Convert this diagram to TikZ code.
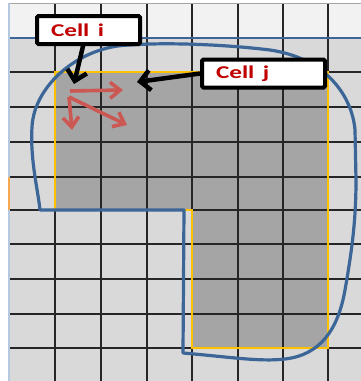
\documentclass[tikz,border=0pt]{standalone}
\usepackage{fontspec}
\usepackage{graphicx}
\newfontfamily\labfont{Carlito}
\usetikzlibrary{arrows.meta}
\definecolor{hdrfill}{HTML}{F2F2F2}
\definecolor{cellfill}{HTML}{D9D9D9}
\definecolor{greyfill}{HTML}{A5A5A5}
\definecolor{gridc}{HTML}{262626}
\definecolor{gold}{HTML}{FFC000}
\definecolor{ablue}{HTML}{3C6698}
\definecolor{lblue}{HTML}{B4C8E0}
\definecolor{txtred}{HTML}{C00000}
\definecolor{arred}{RGB}{204,88,84}
\definecolor{lorange}{HTML}{F8A850}
\tikzset{
  cellbox/.style={draw=black, line width=4pt, fill=white, rounded corners=1.5pt,
    minimum height=28pt, inner xsep=14pt, inner ysep=0pt, align=left,
    font=\labfont\fontsize{18}{18}\selectfont\bfseries, text=txtred},
  blackarrow/.style={draw=black, line width=4.5pt, -{Straight Barb[length=10pt,width=20pt]}},
  redarrow/.style={draw=arred, line width=3.6pt, -{Straight Barb[length=10pt,width=16pt]}},
  gridline/.style={draw=gridc, line width=1.3pt},
  outline/.style={draw=gold, line width=2.6pt},
  blob/.style={draw=ablue, line width=3.2pt, line join=round}
}
\begin{document}
\begin{tikzpicture}[x=1pt,y=-1pt]
\useasboundingbox (0,0) rectangle (361,381);
\fill[white] (0,0) rectangle (361,381);
\fill[hdrfill] (9,3) rectangle (361,38);
\fill[cellfill] (9,38) rectangle (361,381);
% shaded region
\fill[greyfill] (55,72) -- (328,72) -- (328,348) -- (192,348) -- (192,210) -- (55,210) -- cycle;
% grid
\foreach \x in {55,101,147,192,238,283,328} \draw[gridline] (\x,3) -- (\x,381);
\foreach \y in {72,107,142,177,210,244,279,314,348} \draw[gridline] (9,\y) -- (361,\y);
\draw[draw=gray!70, line width=1pt] (9,3) -- (361,3);
\draw[draw=ablue, line width=1.6pt] (9,38) -- (361,38);
\draw[draw=lblue, line width=1.6pt] (9,3) -- (9,381);
\draw[draw=lorange, line width=1.6pt] (9,177) -- (9,210);
% orange outline
\draw[outline] (55,72) -- (328,72) -- (328,348) -- (192,348) -- (192,210) -- (55,210) -- cycle;
% blue blob
\draw[blob] (184,210) -- (183,353)
  .. controls (230,357) and (260,362) .. (285,359)
  .. controls (320,355) and (338,330) .. (345,290)
  .. controls (352,250) and (356,220) .. (356,180)
  -- (355,130)
  .. controls (352,95) and (325,58) .. (270,50)
  .. controls (230,45) and (170,42) .. (130,45)
  .. controls (80,46) and (34,85) .. (32,127)
  .. controls (30,160) and (38,190) .. (40,210)
  -- cycle;
% labels
\node[cellbox, text width=75pt] (ci) at (88.5,30) {\scalebox{1.4}[1]{Cell i}};
\node[cellbox, text width=95pt] (cj) at (263.5,73.5) {\scalebox{1.4}[1]{Cell j}};
\coordinate (ti) at (74,84);
\coordinate (tj) at (137,82);
\draw[blackarrow] ([xshift=-5pt,yshift=2pt]ci.south) -- (ti);
\draw[blackarrow] (cj.west) -- (tj);
% red arrows
\coordinate (o1) at (70,91);
\coordinate (o2) at (69,97);
\coordinate (r1) at (123,90);
\coordinate (r2) at (72,130);
\coordinate (r3) at (127,125);
\draw[redarrow] (o1) -- (r1);
\draw[redarrow] (o2) -- (r2);
\draw[redarrow] (o2) -- (r3);
\end{tikzpicture}
\end{document}
